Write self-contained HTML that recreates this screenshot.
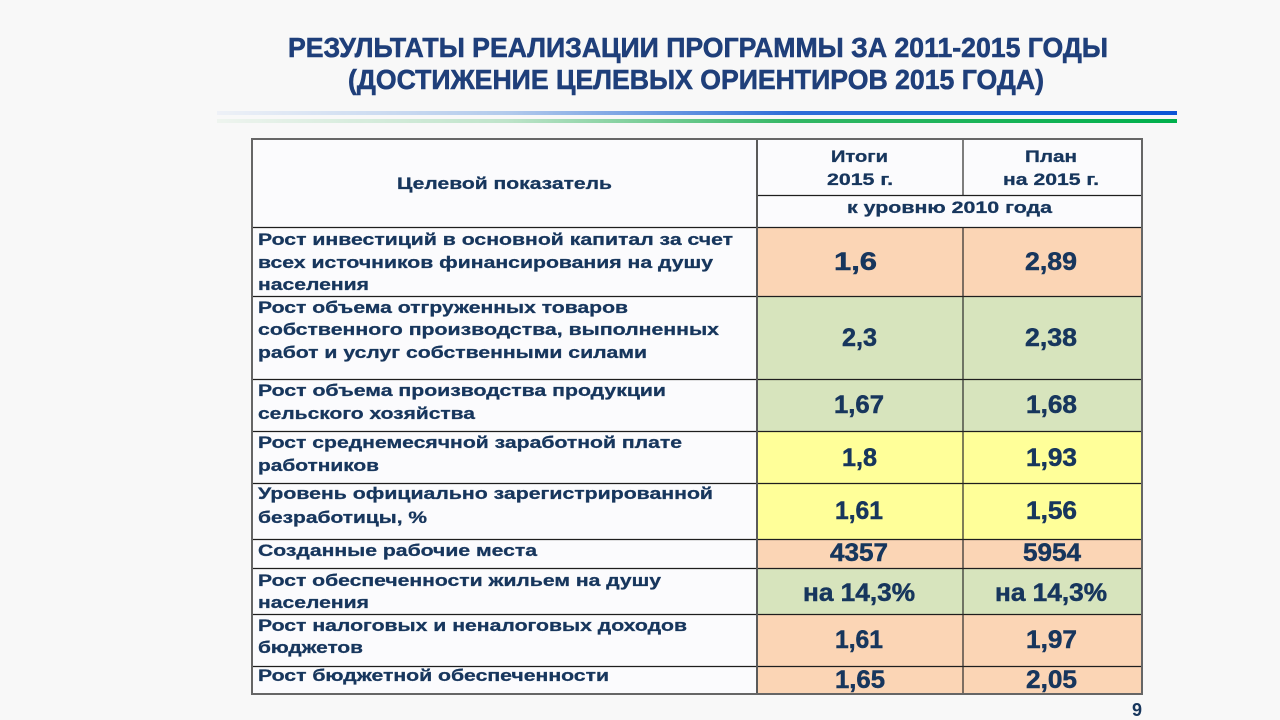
<!DOCTYPE html>
<html>
<head>
<meta charset="utf-8">
<style>
html,body{margin:0;padding:0;background:#f8f8f8;}
svg{display:block;}
text{font-family:"Liberation Sans","DejaVu Sans",sans-serif;font-weight:bold;}
</style>
</head>
<body>
<svg width="1280" height="720" viewBox="0 0 1280 720" xmlns="http://www.w3.org/2000/svg">
<defs>
<linearGradient id="gb" x1="0" x2="1" y1="0" y2="0">
<stop offset="0" stop-color="#eef1f7"/>
<stop offset="0.3" stop-color="#b3cbec"/>
<stop offset="0.6" stop-color="#2e6dd8"/>
<stop offset="1" stop-color="#0b55d6"/>
</linearGradient>
<linearGradient id="gg" x1="0" x2="1" y1="0" y2="0">
<stop offset="0" stop-color="#eef4ef"/>
<stop offset="0.3" stop-color="#bfe4ca"/>
<stop offset="0.6" stop-color="#33b764"/>
<stop offset="1" stop-color="#00b04c"/>
</linearGradient>
</defs>
<rect x="0" y="0" width="1280" height="720" fill="#f8f8f8"/>

<!-- Title -->
<g fill="#1f3f7a" stroke="#1f3f7a" stroke-width="0.6" font-size="28">
<text x="288" y="57" textLength="820" lengthAdjust="spacingAndGlyphs">РЕЗУЛЬТАТЫ РЕАЛИЗАЦИИ ПРОГРАММЫ  ЗА 2011-2015 ГОДЫ</text>
<text x="348" y="89" textLength="696" lengthAdjust="spacingAndGlyphs">(ДОСТИЖЕНИЕ ЦЕЛЕВЫХ ОРИЕНТИРОВ 2015 ГОДА)</text>
</g>

<!-- Lines -->
<rect x="217" y="111" width="960" height="4" fill="url(#gb)"/>
<rect x="217" y="119" width="960" height="4" fill="url(#gg)"/>

<!-- Cell backgrounds -->
<rect x="252" y="139" width="890" height="88" fill="#fbfbfd"/>
<rect x="252" y="227" width="505" height="467" fill="#fbfbfd"/>
<g>
<rect x="757" y="227" width="385" height="69" fill="#fbd5b5"/>
<rect x="757" y="296" width="385" height="83" fill="#d7e4bd"/>
<rect x="757" y="379" width="385" height="52" fill="#d7e4bd"/>
<rect x="757" y="431" width="385" height="52" fill="#ffff99"/>
<rect x="757" y="483" width="385" height="56" fill="#ffff99"/>
<rect x="757" y="539" width="385" height="29" fill="#fbd5b5"/>
<rect x="757" y="568" width="385" height="46" fill="#d7e4bd"/>
<rect x="757" y="614" width="385" height="52" fill="#fbd5b5"/>
<rect x="757" y="666" width="385" height="28" fill="#fbd5b5"/>
</g>

<!-- Horizontal lines -->
<g stroke="#1e1e1e" stroke-width="1.2">
<line x1="757" y1="195.5" x2="1142" y2="195.5"/>
<line x1="252" y1="227.5" x2="1142" y2="227.5"/>
<line x1="252" y1="296.5" x2="1142" y2="296.5"/>
<line x1="252" y1="379.5" x2="1142" y2="379.5"/>
<line x1="252" y1="431.5" x2="1142" y2="431.5"/>
<line x1="252" y1="483.5" x2="1142" y2="483.5"/>
<line x1="252" y1="539.5" x2="1142" y2="539.5"/>
<line x1="252" y1="568.5" x2="1142" y2="568.5"/>
<line x1="252" y1="614.5" x2="1142" y2="614.5"/>
<line x1="252" y1="666.5" x2="1142" y2="666.5"/>
</g>
<!-- Vertical lines -->
<g stroke="#5a5a5a" stroke-width="2">
<line x1="757" y1="139" x2="757" y2="694"/>
</g>
<line x1="963" y1="139" x2="963" y2="195.5" stroke="#2a2a2a" stroke-width="1.2"/>
<line x1="963" y1="227" x2="963" y2="694" stroke="#2a2a2a" stroke-width="1.2"/>
<!-- Outer border -->
<rect x="252" y="139" width="890" height="555" fill="none" stroke="#666" stroke-width="2"/>

<!-- Header text -->
<g fill="#17365d" stroke="#17365d" stroke-width="0.3" font-size="17">
<text x="397" y="189" textLength="215" lengthAdjust="spacingAndGlyphs">Целевой показатель</text>
<text x="831" y="162" textLength="57" lengthAdjust="spacingAndGlyphs">Итоги</text>
<text x="827" y="185" textLength="66" lengthAdjust="spacingAndGlyphs">2015 г.</text>
<text x="1025" y="162" textLength="52" lengthAdjust="spacingAndGlyphs">План</text>
<text x="1003" y="185" textLength="96" lengthAdjust="spacingAndGlyphs">на 2015 г.</text>
<text x="847" y="213" textLength="205" lengthAdjust="spacingAndGlyphs">к уровню 2010 года</text>
</g>

<!-- Left column text -->
<g fill="#17365d" stroke="#17365d" stroke-width="0.3" font-size="17">
<text x="258" y="245" textLength="475" lengthAdjust="spacingAndGlyphs">Рост инвестиций в основной капитал за счет</text>
<text x="258" y="268" textLength="455" lengthAdjust="spacingAndGlyphs">всех источников финансирования на душу</text>
<text x="258" y="290" textLength="111" lengthAdjust="spacingAndGlyphs">населения</text>

<text x="258" y="313" textLength="370" lengthAdjust="spacingAndGlyphs">Рост объема отгруженных товаров</text>
<text x="258" y="335" textLength="461" lengthAdjust="spacingAndGlyphs">собственного производства, выполненных</text>
<text x="258" y="358" textLength="389" lengthAdjust="spacingAndGlyphs">работ и услуг собственными силами</text>

<text x="258" y="396" textLength="408" lengthAdjust="spacingAndGlyphs">Рост объема производства продукции</text>
<text x="258" y="419" textLength="217" lengthAdjust="spacingAndGlyphs">сельского хозяйства</text>

<text x="258" y="448" textLength="424" lengthAdjust="spacingAndGlyphs">Рост среднемесячной заработной плате</text>
<text x="258" y="471" textLength="121" lengthAdjust="spacingAndGlyphs">работников</text>

<text x="258" y="499" textLength="455" lengthAdjust="spacingAndGlyphs">Уровень официально зарегистрированной</text>
<text x="258" y="523" textLength="169" lengthAdjust="spacingAndGlyphs">безработицы, %</text>

<text x="258" y="556" textLength="279" lengthAdjust="spacingAndGlyphs">Созданные рабочие места</text>

<text x="258" y="586" textLength="403" lengthAdjust="spacingAndGlyphs">Рост обеспеченности жильем на душу</text>
<text x="258" y="608" textLength="111" lengthAdjust="spacingAndGlyphs">населения</text>

<text x="258" y="631" textLength="429" lengthAdjust="spacingAndGlyphs">Рост налоговых и неналоговых доходов</text>
<text x="258" y="653" textLength="105" lengthAdjust="spacingAndGlyphs">бюджетов</text>

<text x="258" y="681" textLength="351" lengthAdjust="spacingAndGlyphs">Рост бюджетной обеспеченности</text>
</g>

<!-- Values -->
<g fill="#17365d" stroke="#17365d" stroke-width="0.5" font-size="25">
<text x="834" y="270" textLength="43" lengthAdjust="spacingAndGlyphs">1,6</text>
<text x="1025" y="270" textLength="52" lengthAdjust="spacingAndGlyphs">2,89</text>

<text x="842" y="346" textLength="35" lengthAdjust="spacingAndGlyphs">2,3</text>
<text x="1025" y="346" textLength="52" lengthAdjust="spacingAndGlyphs">2,38</text>

<text x="834" y="413" textLength="50" lengthAdjust="spacingAndGlyphs">1,67</text>
<text x="1026" y="413" textLength="51" lengthAdjust="spacingAndGlyphs">1,68</text>

<text x="842" y="466" textLength="35" lengthAdjust="spacingAndGlyphs">1,8</text>
<text x="1026" y="466" textLength="51" lengthAdjust="spacingAndGlyphs">1,93</text>

<text x="835" y="519" textLength="48" lengthAdjust="spacingAndGlyphs">1,61</text>
<text x="1026" y="519" textLength="51" lengthAdjust="spacingAndGlyphs">1,56</text>

<text x="830" y="561" textLength="58" lengthAdjust="spacingAndGlyphs">4357</text>
<text x="1023" y="561" textLength="58" lengthAdjust="spacingAndGlyphs">5954</text>

<text x="803" y="601" textLength="112" lengthAdjust="spacingAndGlyphs">на 14,3%</text>
<text x="995" y="601" textLength="112" lengthAdjust="spacingAndGlyphs">на 14,3%</text>

<text x="835" y="648" textLength="48" lengthAdjust="spacingAndGlyphs">1,61</text>
<text x="1026" y="648" textLength="51" lengthAdjust="spacingAndGlyphs">1,97</text>

<text x="835" y="688" textLength="50" lengthAdjust="spacingAndGlyphs">1,65</text>
<text x="1026" y="688" textLength="51" lengthAdjust="spacingAndGlyphs">2,05</text>
</g>

<!-- Page number -->
<text x="1132" y="716" fill="#17365d" font-size="18">9</text>
</svg>
</body>
</html>
